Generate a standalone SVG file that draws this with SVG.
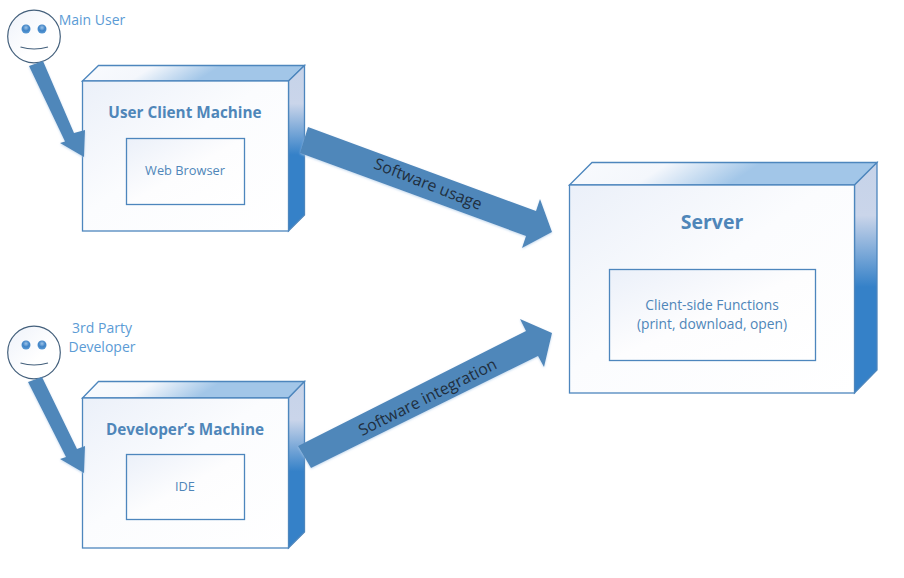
<svg xmlns="http://www.w3.org/2000/svg" width="904" height="578" viewBox="0 0 904 578">
<style>
text{font-family:"Open Sans","Noto Sans","Liberation Sans",sans-serif;text-anchor:middle}
.ln{stroke:#4d86bd;stroke-width:1.3}
.front{fill:url(#gf)}.inner{fill:url(#gi)}.top{fill:url(#gt)}.side{fill:url(#gs)}
.t{fill:#4f86b9;font-weight:700;font-size:15.3px}
.l{fill:#4f86b9;font-size:12.8px}
.f{fill:#4f86b9;font-size:13.8px}
.u{fill:#5b9bd5;font-size:14px}
.a{fill:#4f87ba;filter:url(#sh)}
.c{fill:#1f2f40;font-size:16px}
.head{fill:url(#gh);stroke:#44607c;stroke-width:1.2}
.eye{fill:url(#ge)}
.smile{fill:none;stroke:#44607c;stroke-width:1.2}
</style>
<defs>
<linearGradient id="gf" x1="0" y1="0" x2="1" y2="1"><stop offset="0" stop-color="#ebf0f9"/><stop offset=".45" stop-color="#fbfcfe"/><stop offset="1" stop-color="#fff"/></linearGradient>
<linearGradient id="gi" x1="0" y1="0" x2="1" y2="1"><stop offset="0" stop-color="#ebf0f9"/><stop offset=".5" stop-color="#fdfdfe"/><stop offset="1" stop-color="#fff"/></linearGradient>
<linearGradient id="gt" x1="0" y1="0" x2="1" y2=".114"><stop offset="0" stop-color="#f9fbfe"/><stop offset=".32" stop-color="#f4f7fc"/><stop offset=".62" stop-color="#a2c6e8"/><stop offset="1" stop-color="#a2c6e8"/></linearGradient>
<linearGradient id="gs" x1="0" y1="0" x2="0" y2="1"><stop offset="0" stop-color="#c6d3e9"/><stop offset=".23" stop-color="#cad5ea"/><stop offset=".54" stop-color="#3581c8"/><stop offset="1" stop-color="#3581c8"/></linearGradient>
<linearGradient id="gh" x1="0" y1="0" x2="1" y2="1"><stop offset="0" stop-color="#eef2fa"/><stop offset=".6" stop-color="#fff"/></linearGradient>
<radialGradient id="ge" cx=".5" cy=".35" r=".65"><stop offset="0" stop-color="#9cc3e8"/><stop offset=".55" stop-color="#3f83c6"/><stop offset="1" stop-color="#5b9bd5"/></radialGradient>
<filter id="sh" x="-10%" y="-10%" width="120%" height="120%"><feGaussianBlur in="SourceAlpha" stdDeviation="1.2" result="b"/><feFlood flood-color="#a9c9e8" flood-opacity=".7"/><feComposite in2="b" operator="in"/><feOffset dy="1"/><feMerge><feMergeNode/><feMergeNode in="SourceGraphic"/></feMerge></filter>
</defs>
<g id="user-machine">
<polygon class="top ln" points="82.5,81 98.5,65.5 304.5,65.5 288.5,81"/>
<polygon class="side ln" points="288.5,81 304.5,65.5 304.5,215 288.5,231"/>
<rect class="front ln" x="82.5" y="81" width="206" height="150"/>
<text class="t" x="185" y="118">User Client Machine</text>
</g>
<g id="web-browser">
<rect class="inner ln" x="126.5" y="138.5" width="118" height="66"/>
<text class="l" x="185" y="175">Web Browser</text>
</g>
<g id="dev-machine">
<polygon class="top ln" points="82.5,398 98.5,381.5 304.5,381.5 288.5,398"/>
<polygon class="side ln" points="288.5,398 304.5,381.5 304.5,532 288.5,548"/>
<rect class="front ln" x="82.5" y="398" width="206" height="150"/>
<text class="t" x="185" y="435">Developer’s Machine</text>
</g>
<g id="ide">
<rect class="inner ln" x="126.5" y="454.5" width="118" height="65"/>
<text class="l" x="185" y="491">IDE</text>
</g>
<g id="server">
<polygon class="top ln" points="569.5,185 592,162.5 877,162.5 854.5,185"/>
<polygon class="side ln" points="854.5,185 877,162.5 877,370 854.5,393"/>
<rect class="front ln" x="569.5" y="185" width="285" height="208"/>
<text class="t" x="712" y="229" style="font-size:19.5px">Server</text>
</g>
<g id="client-functions">
<rect class="inner ln" x="609.5" y="269.5" width="206" height="91"/>
<text class="f" x="712" y="310">Client-side Functions</text>
<text class="f" x="712" y="329">(print, download, open)</text>
</g>
<g id="main-user">
<circle class="head" cx="34" cy="36.5" r="26.3"/>
<circle class="eye" cx="26" cy="29" r="4.5"/><circle class="eye" cx="42" cy="29" r="4.5"/>
<path class="smile" d="M20.5,47 Q34,51 48,47"/>
<text class="u" x="92" y="25">Main User</text>
</g>
<g id="third-party">
<circle class="head" cx="34" cy="352.5" r="26.3"/>
<circle class="eye" cx="26" cy="345" r="4.5"/><circle class="eye" cx="42" cy="345" r="4.5"/>
<path class="smile" d="M20.5,363 Q34,367 48,363"/>
<text class="u" x="102" y="333">3rd Party</text>
<text class="u" x="102" y="352">Developer</text>
</g>
<g id="connectors">
<polygon class="a" points="29,66 43,61 74,133 85,130 84,157 60,143 65,141.5"/>
<polygon class="a" points="28,382 42,377 77,449 85,446 84,473 60,459 66,457"/>
<polygon class="a" points="308,127 536,211 540,199 552,232 522,248 526,236 300,153"/>
<polygon class="a" points="298,446 526,331 520,319 552,333 544,367 538,356 311,468"/>
</g>
<g id="connector-labels">
<text class="c" transform="translate(426,189) rotate(21.5)">Software usage</text>
<text class="c" transform="translate(430,402) rotate(-26.7)">Software integration</text>
</g>
</svg>
